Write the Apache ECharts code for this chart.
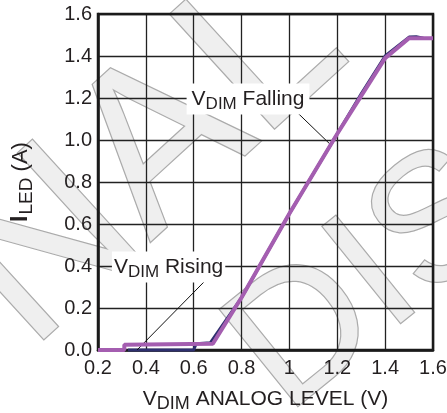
<!DOCTYPE html>
<html><head><meta charset="utf-8">
<script src="https://cdn.jsdelivr.net/npm/echarts@6/dist/echarts.min.js"></script>
<style>html,body{margin:0;padding:0;background:#fff}#c{width:447px;height:413px}</style>
</head><body><div id="c"></div>
<script>
// ---- data ----
const xMin = 0.2, xMax = 1.6, xStep = 0.2;
const yMin = 0, yMax = 1.6, yStep = 0.2;
const fallingX = [0.2, 0.31, 0.31, 0.68, 0.8, 1.0, 1.2, 1.3, 1.4, 1.5, 1.6];
const fallingY = [0, 0, 0.025, 0.03, 0.25, 0.65, 1.03, 1.21, 1.39, 1.485, 1.485];
const risingX = [0.325, 0.6, 0.61, 0.67, 0.8, 1.0, 1.2, 1.3, 1.4, 1.5, 1.53, 1.56];
const risingY = [0, 0, 0.03, 0.035, 0.25, 0.65, 1.03, 1.22, 1.40, 1.49, 1.492, 1.485];
const fallingLabel = 'Falling';
const risingLabel = 'Rising';
const xName = 'ANALOG LEVEL (V)';
const yName = '(A)';

const FONT = 'Liberation Sans, Arial, sans-serif';
const TXT = '#231f20';
const chart = echarts.init(document.getElementById('c'), null, {renderer: 'canvas'});
const zip = (xs, ys) => xs.map((x, i) => [x, ys[i]]);

const xRich = {
  v: {fontSize: 21, fontFamily: FONT, color: TXT},
  s: {fontSize: 18, fontFamily: FONT, color: TXT, padding: [10, 0, 0, 0]},
  t: {fontSize: 21, fontFamily: FONT, color: TXT}
};
const yRich = {
  i: {fontSize: 23, fontFamily: FONT, color: TXT, fontWeight: 'bold'},
  s: {fontSize: 19, fontFamily: FONT, color: TXT, padding: [11, 0, 0, 1]},
  t: {fontSize: 22, fontFamily: FONT, color: TXT}
};

chart.setOption({
  animation: false,
  backgroundColor: '#fff',
  grid: {left: 98, right: 14, top: 14, bottom: 63, containLabel: false, outerBoundsMode: 'none',
    show: true, borderColor: '#1a1a1a', borderWidth: 2.5, z: 3},
  xAxis: {
    type: 'value', min: xMin, max: xMax, interval: xStep,
    axisLine: {show: true, lineStyle: {color: '#1a1a1a', width: 2.5}},
    axisTick: {show: false},
    splitLine: {show: true, lineStyle: {color: '#222', width: 1.3}},
    axisLabel: {color: TXT, fontSize: 20, fontFamily: FONT, margin: 8,
      formatter: v => String(Math.round(v * 10) / 10)},
    name: '{v|V}{s|DIM}{t| ' + xName + '}', nameLocation: 'middle', nameGap: 35,
    nameTextStyle: {rich: xRich}
  },
  yAxis: {
    type: 'value', min: yMin, max: yMax, interval: yStep,
    axisLine: {show: true, lineStyle: {color: '#1a1a1a', width: 2.5}},
    axisTick: {show: false},
    splitLine: {show: true, lineStyle: {color: '#222', width: 1.3}},
    axisLabel: {color: TXT, fontSize: 20, fontFamily: FONT, margin: 6,
      formatter: v => (Math.round(v * 10) / 10).toFixed(1)},
    name: '{i|I}{s|LED}{t| ' + yName + '}', nameLocation: 'middle', nameGap: 62,
    nameTextStyle: {rich: yRich}
  },
  series: [
    {type: 'line', name: 'Rising', data: zip(risingX, risingY), showSymbol: false, z: 4, clip: false,
     lineStyle: {color: '#2e2f6e', width: 3}},
    {type: 'line', name: 'Falling', data: zip(fallingX, fallingY), showSymbol: false, z: 5, clip: false,
     lineStyle: {color: '#a45eb0', width: 4},
     markLine: {silent: true, symbol: 'none', label: {show: false},
       lineStyle: {color: '#111', width: 1, type: 'solid'},
       data: [
         [{coord: [1.0, 1.167]}, {coord: [1.178, 0.971]}],
         [{coord: [0.68, 0.367]}, {coord: [0.363, 0]}]
       ]}}
  ]
});

function px(p) { return chart.convertToPixel({gridIndex: 0}, p); }
const fallPos = px([0.827, 1.195]);
const risePos = px([0.495, 0.395]);
const annRich = {
  v: {fontSize: 21, fontFamily: FONT, fill: TXT},
  s: {fontSize: 17, fontFamily: FONT, fill: TXT, padding: [10, 0, 0, 0]},
  t: {fontSize: 21, fontFamily: FONT, fill: TXT}
};
const wmStyle = {fill: '#efefef', stroke: '#ababab', lineWidth: 2.5,
  align: 'center', verticalAlign: 'middle'};
chart.setOption({
  graphic: [
    {type: 'text', x: 150, y: 158, rotation: 0.74, z: -10, silent: true,
     style: Object.assign({text: 'NAL', font: 'normal 225px ' + FONT}, wmStyle)},
    {type: 'text', x: 372, y: 282, rotation: 0.68, z: -10, silent: true,
     style: Object.assign({text: 'DIS', font: 'normal 180px ' + FONT}, wmStyle)},
    {type: 'text', x: fallPos[0], y: fallPos[1], z: 10,
     style: {text: '{v|V}{s|DIM}{t| ' + fallingLabel + '}', rich: annRich, align: 'center', verticalAlign: 'middle',
       backgroundColor: '#fff', padding: [2, 5, 2, 5]}},
    {type: 'text', x: risePos[0], y: risePos[1], z: 10,
     style: {text: '{v|V}{s|DIM}{t| ' + risingLabel + '}', rich: annRich, align: 'center', verticalAlign: 'middle',
       backgroundColor: '#fff', padding: [2, 2, 2, 2]}}
  ]
});
</script></body></html>
